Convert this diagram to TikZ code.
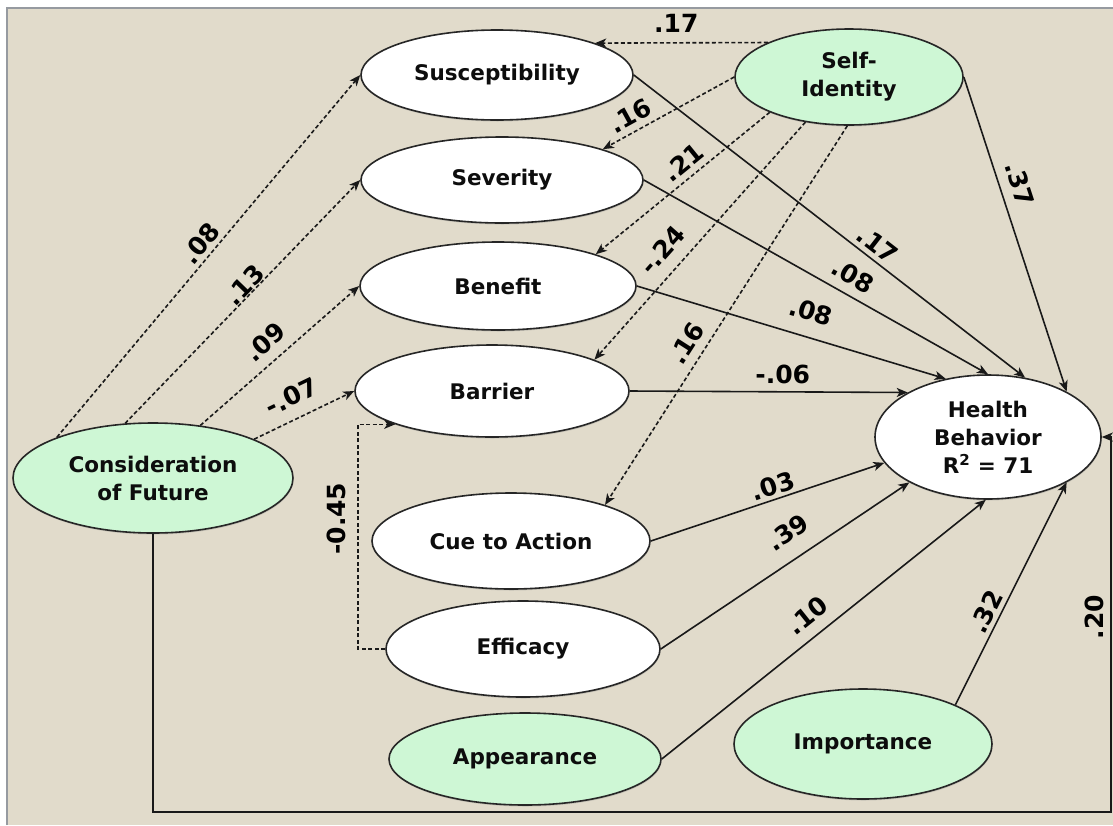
\documentclass[tikz,border=0pt]{standalone}
\usepackage{fontspec}
\setmainfont{DejaVu Sans}
\usetikzlibrary{shapes.geometric,arrows.meta,shadows}
\definecolor{bg}{RGB}{225,219,203}
\definecolor{lgreen}{RGB}{206,247,213}
\definecolor{framegray}{RGB}{150,154,160}
\begin{document}
\begin{tikzpicture}[x=1pt,y=-1pt,
  oval/.style={ellipse, draw=black!85, line width=1.6pt, inner sep=0pt,
    font=\fontsize{21.5}{28}\selectfont\bfseries, align=center, text=black!95,
    drop shadow={shadow xshift=0.5pt, shadow yshift=-1.5pt, opacity=0.3}},
  wov/.style={oval, fill=white},
  gov/.style={oval, fill=lgreen},
  conn/.style={line width=1.6pt, draw=black!90, -{Stealth[length=11pt,width=9pt,inset=3pt]}},
  dconn/.style={conn, dash pattern=on 4pt off 2.5pt},
  lbl/.style={font=\fontsize{25}{25}\selectfont\bfseries, inner sep=0pt, sloped, text=black}
]
\useasboundingbox (0,0) rectangle (1113,825);
\fill[white] (0,0) rectangle (1113,825);
\fill[bg] (7,8) rectangle (1113,825);
\draw[framegray, line width=1.5pt] (6.75,825) -- (6.75,7.75) -- (1113,7.75);

% nodes
\node[wov, minimum width=272pt, minimum height=90pt] (Sus) at (497,75) {Susceptibility};
\node[wov, minimum width=282pt, minimum height=86pt] (Sev) at (502,180) {Severity};
\node[wov, minimum width=276pt, minimum height=88pt] (Ben) at (498,286) {Benefit};
\node[wov, minimum width=274pt, minimum height=92pt] (Bar) at (492,391) {Barrier};
\node[wov, minimum width=278pt, minimum height=96pt] (Cue) at (511,541) {Cue to Action};
\node[wov, minimum width=274pt, minimum height=96pt] (Eff) at (523,649) {Efficacy};
\node[gov, minimum width=272pt, minimum height=92pt] (App) at (525,759) {Appearance};
\node[gov, minimum width=258pt, minimum height=110pt] (Imp) at (863,744) {Importance};
\node[wov, minimum width=226pt, minimum height=124pt] (HB) at (988,437) {Health\\Behavior\\R\textsuperscript{2} = 71};
\node[gov, minimum width=228pt, minimum height=96pt] (SI) at (849,77) {Self-\\Identity};
\node[gov, minimum width=280pt, minimum height=110pt] (CF) at (153,478) {Consideration\\of Future};

% Consideration of Future -> mediators
\draw[dconn] (CF.157) -- node[lbl,pos=0.51,above=4pt]{.08} (Sus.west);
\draw[dconn] (CF.117) -- node[lbl,pos=0.54,above=0pt]{.13} (Sev.west);
\draw[dconn] (CF.48) -- node[lbl,pos=0.49,above=10pt]{.09} (Ben.west);
\draw[dconn] (CF.21) -- node[lbl,pos=0.47,above=12pt]{-.07} (Bar.west);

% Self-Identity -> mediators
\draw[dconn] (SI.157) -- node[lbl,pos=0.53,above=10pt]{.17} (Sus.18);
\draw[dconn] (SI.west) -- node[lbl,pos=0.73,above=6pt]{.16} (Sev.17);
\draw[dconn] (SI.204) -- node[lbl,pos=0.44,above=6pt]{.21} (Ben.18);
\draw[dconn] (SI.226) -- node[lbl,pos=0.6,above=12pt]{-.24} (Bar.17);
\draw[dconn] (SI.268) -- node[lbl,pos=0.6,above=8pt]{.16} (Cue.21);

% paths to Health Behavior
\draw[conn] (Sus.east) -- node[lbl,pos=0.6,above=5pt]{.17} (HB.58);
\draw[conn] (Sev.east) -- node[lbl,pos=0.58,above=9pt]{.08} (HB.90);
\draw[conn] (Ben.east) -- node[lbl,pos=0.54,above=15pt]{.08} (HB.126);
\draw[conn] (Bar.east) -- node[lbl,pos=0.55,above=7pt]{-.06} (HB.151);
\draw[conn] (SI.east) -- node[lbl,pos=0.36,above=10pt]{.37} (HB.30);
\draw[conn] (Cue.east) -- node[lbl,pos=0.54,above=3pt]{.03} (HB.194);
\draw[conn] (Eff.east) -- node[lbl,pos=0.57,above=16pt]{.39} (HB.210);
\draw[conn] (App.east) -- node[lbl,pos=0.49,above=11pt]{.10} (HB.268);
\draw[conn] (Imp.23) -- node[lbl,pos=0.39,above=4pt]{.32} (HB.330);

% Consideration of Future -> Health Behavior (around the bottom)
\coordinate (c2) at (1111,812);
\coordinate (c1) at (CF.south |- c2);
\coordinate (c3) at (c2 |- HB.east);
\draw[conn] (CF.south) -- (c1) -- (c2) -- node[lbl,pos=0.52,above=6pt]{.20} (c3) -- (HB.east);

% Efficacy -> Barrier
\coordinate (e1) at (358,649);
\draw[dconn] (Eff.west) -- (e1) |- node[lbl,pos=0.29,above=11pt]{-0.45} (Bar.199);
\end{tikzpicture}
\end{document}
